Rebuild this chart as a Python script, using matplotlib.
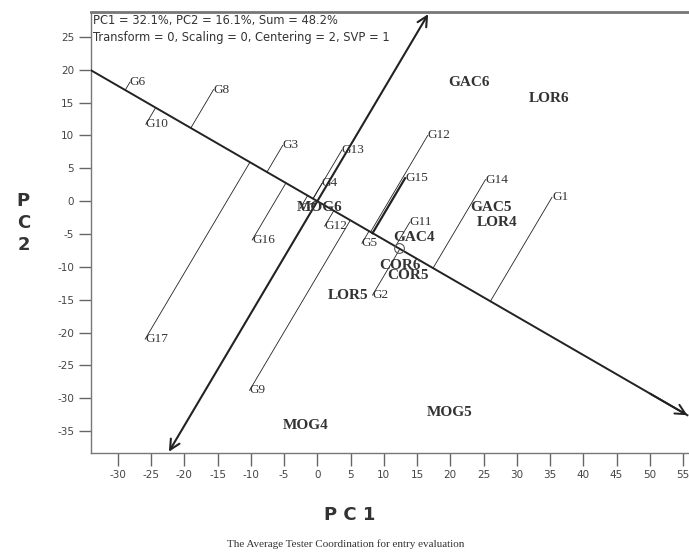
import numpy as np
import matplotlib.pyplot as plt

plt.rcParams['axes.unicode_minus'] = False

# genotype scores (PC1, PC2)
genotypes = ['G1', 'G2', 'G3', 'G4', 'G5', 'G6', 'G7', 'G8', 'G9', 'G10',
             'G11', 'G12', 'G12', 'G13', 'G14', 'G15', 'G16', 'G17']
geno_pc1 = [35.3, 8.3, -5.2, 0.7, 6.7, -28.2, -2.6, -15.6, -10.2, -25.8,
            13.9, 16.6, 1.1, 3.7, 25.3, 13.2, -9.8, -25.9]
geno_pc2 = [0.6, -14.3, 8.5, 2.7, -6.4, 18.1, -1.1, 17.0, -28.8, 11.7,
            -3.2, 10.0, -3.8, 7.8, 3.3, 3.5, -5.9, -21.0]

# environment scores (PC1, PC2)
environments = ['GAC6', 'LOR6', 'GAC5', 'LOR4', 'GAC4', 'COR6', 'COR5',
                'LOR5', 'MOG6', 'MOG4', 'MOG5']
env_pc1 = [22.8, 34.8, 26.1, 27.0, 14.5, 12.4, 13.6, 4.7, 0.4, -1.7, 19.9]
env_pc2 = [18.1, 15.7, -0.9, -3.2, -5.5, -9.8, -11.3, -14.3, -0.9, -34.1, -32.1]

# average environment
avg_env = (12.3, -7.2)

header = ['PC1 = 32.1%, PC2 = 16.1%, Sum = 48.2%',
          'Transform = 0, Scaling = 0, Centering = 2, SVP = 1']

fig = plt.figure(figsize=(6.89, 5.54), dpi=100)
ax = fig.add_axes([0.132, 0.182, 0.868, 0.796])
ax.set_xlim(-34.05, 55.9)
ax.set_ylim(-38.36, 28.77)

# ATC axes: abscissa through the average environment, ordinate perpendicular
v = np.array(avg_env) / np.hypot(*avg_env)
u = np.array([-v[1], v[0]])

line_col = '#222222'
start = v * -60
tip = v * 64.5
ax.plot([start[0], tip[0]], [start[1], tip[1]], color=line_col, lw=1.4, zorder=3)
ax.annotate('', xy=tip, xytext=v * 58, zorder=4,
            arrowprops=dict(arrowstyle='->', color=line_col, lw=1.4,
                            mutation_scale=18, shrinkA=0, shrinkB=0))

top = u * 33.0
bottom = u * -44.2
ax.annotate('', xy=top, xytext=bottom, zorder=4,
            arrowprops=dict(arrowstyle='<->', color=line_col, lw=1.5,
                            mutation_scale=18, shrinkA=0, shrinkB=0))

# projection of every genotype on the abscissa
serif = 'Liberation Serif'
for name, x, y in zip(genotypes, geno_pc1, geno_pc2):
    p = np.array([x, y])
    proj = v * np.dot(p, v)
    lw = 1.6 if name == 'G15' else 0.6
    ax.plot([x, proj[0]], [y, proj[1]], color=line_col, lw=lw, zorder=2)
    ax.text(x, y, name, fontsize=9.5, family=serif, color='#333333',
            ha='left', va='center', zorder=5)

for name, x, y in zip(environments, env_pc1, env_pc2):
    ax.text(x, y, name, fontsize=11, family=serif, fontweight='bold',
            color='#333333', ha='center', va='center', zorder=5)

ax.plot(*avg_env, 'o', ms=7, mfc='none', mec='#555555', mew=0.8, zorder=4)

ax.text(-33.7, 28.5, header[0], fontsize=8.3, color='#333333', va='top')
ax.text(-33.7, 25.9, header[1], fontsize=8.3, color='#333333', va='top')

# frame and ticks
for side in ['left', 'bottom']:
    ax.spines[side].set_color('#777777')
    ax.spines[side].set_linewidth(1.0)
ax.spines['top'].set_color('#777777')
ax.spines['top'].set_linewidth(2.0)
ax.spines['right'].set_visible(False)

ax.set_xticks(np.arange(-30, 56, 5))
ax.set_yticks(np.arange(-35, 26, 5))
ax.tick_params(direction='out', length=9, width=1.0, color='#666666',
               labelsize=7.5, labelcolor='#444444', pad=3)

fig.text(0.508, 0.07, 'P C 1', fontsize=13, fontweight='bold',
         color='#333333', ha='center', va='center')
fig.text(0.034, 0.597, 'P\nC\n2', fontsize=13, fontweight='bold',
         color='#333333', ha='center', va='center', linespacing=1.3)
fig.text(0.502, 0.018, 'The Average Tester Coordination for entry evaluation',
         fontsize=8, family=serif, color='#333333', ha='center', va='center')

fig.savefig('out.png', dpi=100)
